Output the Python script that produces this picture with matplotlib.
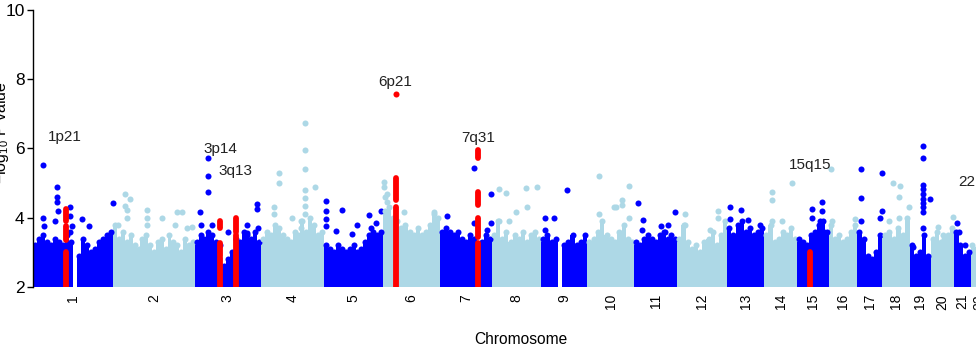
import numpy as np
import matplotlib
matplotlib.use("Agg")
import matplotlib.pyplot as plt

plt.rcParams.update({
    "font.family": ["Liberation Sans", "DejaVu Sans"],
    "mathtext.fontset": "custom",
    "mathtext.rm": "Liberation Sans",
    "mathtext.it": "Liberation Sans:italic",
})

# chromosome sizes (Mb), as laid out on the x axis
chrom_names = [str(i) for i in range(1, 23)]
chrom_len = [249, 252, 206, 195, 183, 177, 161, 152, 143, 146, 133,
             155, 115, 102, 99, 87, 78, 84, 65, 74, 50, 51]

# upper edge of the dense SNP cloud, left to right along each chromosome
fill_tops = [
    [3.2, 3.4, 3.5, 3.3, 3.2, 3.4, 3.3, 3.2, 3.5, 3.3, 2.0, 2.9, 3.4, 3.2, 3.0, 3.1, 3.3, 3.4, 3.5, 3.6],
    [3.8, 3.4, 3.6, 3.3, 3.5, 3.2, 3.1, 3.4, 3.5, 3.2, 3.0, 3.3, 3.4, 3.1, 3.5, 3.3, 3.2, 3.0, 3.4, 3.2, 3.3],
    [3.3, 3.5, 3.4, 3.6, 3.5, 3.3, 3.2, 2.6, 2.8, 3.0, 3.4, 3.3, 3.6, 3.5, 3.4, 3.6, 3.3],
    [3.4, 3.6, 3.5, 3.8, 3.7, 3.5, 3.4, 3.3, 3.6, 3.5, 3.9, 3.6, 4.0, 3.8, 3.5, 3.6],
    [3.2, 3.1, 3.0, 3.2, 3.1, 3.0, 3.1, 3.2, 3.0, 3.1, 3.3, 3.5, 3.6, 3.5, 3.6],
    [4.2, 4.3, 4.0, 3.9, 3.7, 3.8, 3.6, 3.5, 3.7, 3.5, 3.6, 3.8, 4.1, 4.0],
    [3.6, 3.7, 3.6, 3.5, 3.6, 3.4, 3.3, 3.5, 3.4, 3.2, 3.3, 3.5, 3.4],
    [3.5, 3.9, 3.4, 3.6, 3.3, 3.5, 3.4, 3.6, 3.3, 3.5, 3.6, 3.4],
    [3.4, 3.5, 3.3, 3.4, 2.0, 3.2, 3.3, 3.5, 3.2, 3.3, 3.5],
    [3.3, 3.4, 3.6, 3.9, 3.5, 3.4, 3.3, 3.6, 3.8, 3.4, 3.3],
    [3.3, 3.2, 3.4, 3.5, 3.4, 3.3, 3.5, 3.6, 3.4, 3.5, 3.4],
    [3.4, 3.8, 3.3, 3.1, 3.2, 3.0, 3.3, 3.4, 3.6, 3.2, 3.5, 3.9],
    [3.7, 3.5, 3.8, 3.9, 3.6, 3.7, 3.5, 3.6, 3.7],
    [3.5, 3.8, 3.3, 3.4, 3.6, 3.5, 3.7, 3.4],
    [3.4, 3.3, 3.2, 3.5, 3.6, 3.8, 3.9, 3.6],
    [3.8, 3.4, 3.5, 3.3, 3.4, 3.6, 3.8],
    [3.6, 3.4, 2.9, 2.8, 3.0, 3.5],
    [3.5, 3.6, 3.4, 3.7, 3.5, 4.0],
    [3.2, 2.9, 3.0, 3.5, 2.9],
    [3.4, 3.6, 3.3, 3.4, 3.5, 3.7],
    [3.6, 3.2, 2.9, 3.0],
    [3.2, 3.1, 3.0, 3.1, 3.0],
]

# individual SNPs standing above the cloud (position in Mb, -log10 P)
hit_pos = [
    [31, 31, 34, 68, 74, 74, 74, 78, 115, 115, 115, 121, 152, 174, 248],
    [16, 37, 53, 37, 43, 43, 105, 105, 105, 152, 198, 214, 245, 192, 229],
    [16, 40, 40, 40, 19, 53, 102, 161, 161, 192, 192, 195],
    [136, 136, 136, 136, 136, 136, 136, 167, 56, 56, 40, 40, 96, 124, 124],
    [6, 6, 6, 6, 56, 37, 102, 87, 140, 177, 161, 146],
    [3, 3, 6, 12, 12, 65, 158],
    [105, 159, 22, 105, 159, 146],
    [22, 43, 105, 140, 74, 22, 108, 53],
    [12, 40, 12, 81],
    [37, 84, 37, 130, 109, 109, 130, 90],
    [12, 28, 25, 96, 127, 81, 105],
    [25, 25, 127, 127, 102],
    [9, 43, 9, 65, 102],
    [22, 22, 87, 22, 56],
    [47, 78, 78, 47, 71, 84],
    [6, 9, 81],
    [12, 12, 12, 77, 77, 71],
    [31, 53, 50, 50, 81, 19],
    [43, 43, 43, 43, 43, 43, 43, 43, 43, 43, 63, 12],
    [22, 40, 68],
    [9, 15, 34],
    [],
]
hit_logp = [
    [5.53, 4.0, 3.75, 3.9, 4.9, 4.6, 4.46, 4.2, 4.3, 4.05, 3.6, 3.75, 3.95, 3.75, 4.43],
    [3.8, 4.69, 4.54, 4.35, 4.23, 4.0, 4.23, 4.0, 3.8, 4.0, 4.17, 4.17, 3.73, 3.8, 3.7],
    [4.17, 5.73, 5.21, 4.75, 3.8, 3.8, 3.6, 3.8, 3.55, 4.4, 4.25, 3.7],
    [6.74, 5.96, 5.4, 4.8, 4.57, 4.35, 4.1, 4.9, 5.3, 5.0, 4.3, 4.1, 4.0, 3.9, 3.7],
    [4.48, 4.2, 3.95, 3.75, 4.23, 3.62, 3.8, 3.53, 4.07, 4.2, 3.85, 3.7],
    [5.03, 4.9, 4.6, 4.7, 4.45, 4.17, 4.17],
    [5.44, 4.7, 4.05, 3.85, 3.85, 3.65],
    [4.83, 4.72, 4.87, 4.9, 4.17, 3.9, 4.3, 3.9],
    [4.0, 4.0, 3.65, 4.8],
    [5.2, 4.3, 4.1, 4.92, 4.5, 4.37, 4.0, 4.3],
    [4.43, 3.94, 3.65, 3.6, 4.17, 3.75, 3.8],
    [4.1, 3.8, 4.2, 4.0, 3.65],
    [4.3, 4.23, 3.95, 3.94, 3.8],
    [4.75, 4.5, 5.0, 3.9, 3.9],
    [4.25, 4.46, 4.2, 4.0, 3.9, 3.6],
    [5.4, 3.9, 3.95],
    [5.4, 4.57, 3.9, 5.3, 4.2, 4.0],
    [5.0, 4.93, 4.6, 4.0, 4.3, 3.9],
    [6.08, 5.73, 4.95, 4.82, 4.68, 4.55, 4.42, 4.3, 4.18, 3.7, 4.54, 3.16],
    [3.73, 3.5, 4.03],
    [3.85, 3.6, 3.2],
    [],
]

# replicated loci (red): runs of SNPs between lo and hi
red_chrom = [1, 1, 1, 3, 3, 3, 3, 3, 6, 6, 7, 7, 7, 7, 15]
red_pos = [101, 101, 101, 78, 78, 78, 127, 127, 39, 39, 118, 118, 118, 118, 40]
red_lo = [2.0, 3.35, 3.9, 2.0, 2.9, 3.7, 2.0, 3.6, 2.0, 4.5, 2.0, 3.45, 4.37, 5.73, 2.0]
red_hi = [3.0, 3.75, 4.25, 2.85, 3.27, 3.9, 3.5, 4.0, 4.3, 5.15, 3.27, 4.0, 4.75, 5.96, 3.0]
red_dot_chrom = [6]
red_dot_pos = [39]
red_dot_logp = [7.58]

locus_labels = ["1p21", "3p14", "3q13", "6p21", "7q31", "15q15", "22"]

BLUE = "#0000FF"
LIGHT = "#ADD8E6"
RED = "#FF0000"


def main():
    offsets = np.concatenate([[0], np.cumsum(chrom_len)[:-1]])
    centers = offsets + np.array(chrom_len) / 2

    fig = plt.figure(figsize=(9.76, 3.48), dpi=100)
    ax = fig.add_axes([33 / 976, 61 / 348, 955 / 976, 277 / 348])

    for i, tops in enumerate(fill_tops):
        col = BLUE if i % 2 == 0 else LIGHT
        tops = np.array(tops)
        step = chrom_len[i] / len(tops)
        xs = offsets[i] + (np.arange(len(tops)) + 0.5) * step
        keep = tops > 2.05
        ax.bar(xs[keep], tops[keep] - 2, bottom=2, width=step * 1.02,
               color=col, linewidth=0, zorder=1)
        ax.scatter(xs[keep], tops[keep], s=19, color=col, linewidths=0, zorder=2)

        hx = offsets[i] + np.array(hit_pos[i], dtype=float)
        ax.scatter(hx, hit_logp[i], s=19, color=col, linewidths=0, zorder=2)

    # red loci
    rx = [offsets[c - 1] + p for c, p in zip(red_chrom, red_pos)]
    ax.vlines(rx, red_lo, red_hi, colors=RED, linewidth=4.2,
              capstyle="round", zorder=3)
    dx = [offsets[c - 1] + p for c, p in zip(red_dot_chrom, red_dot_pos)]
    ax.scatter(dx, red_dot_logp, s=19, color=RED, linewidths=0, zorder=3)

    # locus labels (genome position, height)
    label_xy = [(99, 6.34), (580, 5.99), (629, 5.35), (1122, 7.92),
                (1380, 6.31), (2409, 5.53), (2868, 5.03)]
    for lab, (x, y) in zip(locus_labels, label_xy):
        ax.text(x, y, lab, fontsize=11, ha="left" if lab == "22" else "center",
                va="center", color="#222222")

    ax.set_xlim(0, 2960)
    ax.set_ylim(2, 10)
    for s in ["top", "right", "bottom"]:
        ax.spines[s].set_visible(False)
    ax.spines["left"].set_bounds(2, 10)
    ax.spines["left"].set_linewidth(1.0)
    ax.set_yticks([2, 4, 6, 8, 10])
    ax.tick_params(axis="y", labelsize=12.5, length=4.5, width=1.0, pad=1.5)
    ax.set_xticks(centers)
    ax.set_xticklabels(chrom_names, rotation=90)
    ax.tick_params(axis="x", labelsize=10, length=0, pad=5)

    fig.text(521 / 976, 1 - 340 / 348, "Chromosome", fontsize=11.2,
             ha="center", va="center")
    fig.text(2 / 976, 1 - 133 / 348, r"$\mathrm{-log_{10}}$ P value",
             fontsize=11.5, rotation=90, ha="center", va="center")

    fig.savefig("out.png", dpi=100)
    plt.close(fig)


if __name__ == "__main__":
    main()
